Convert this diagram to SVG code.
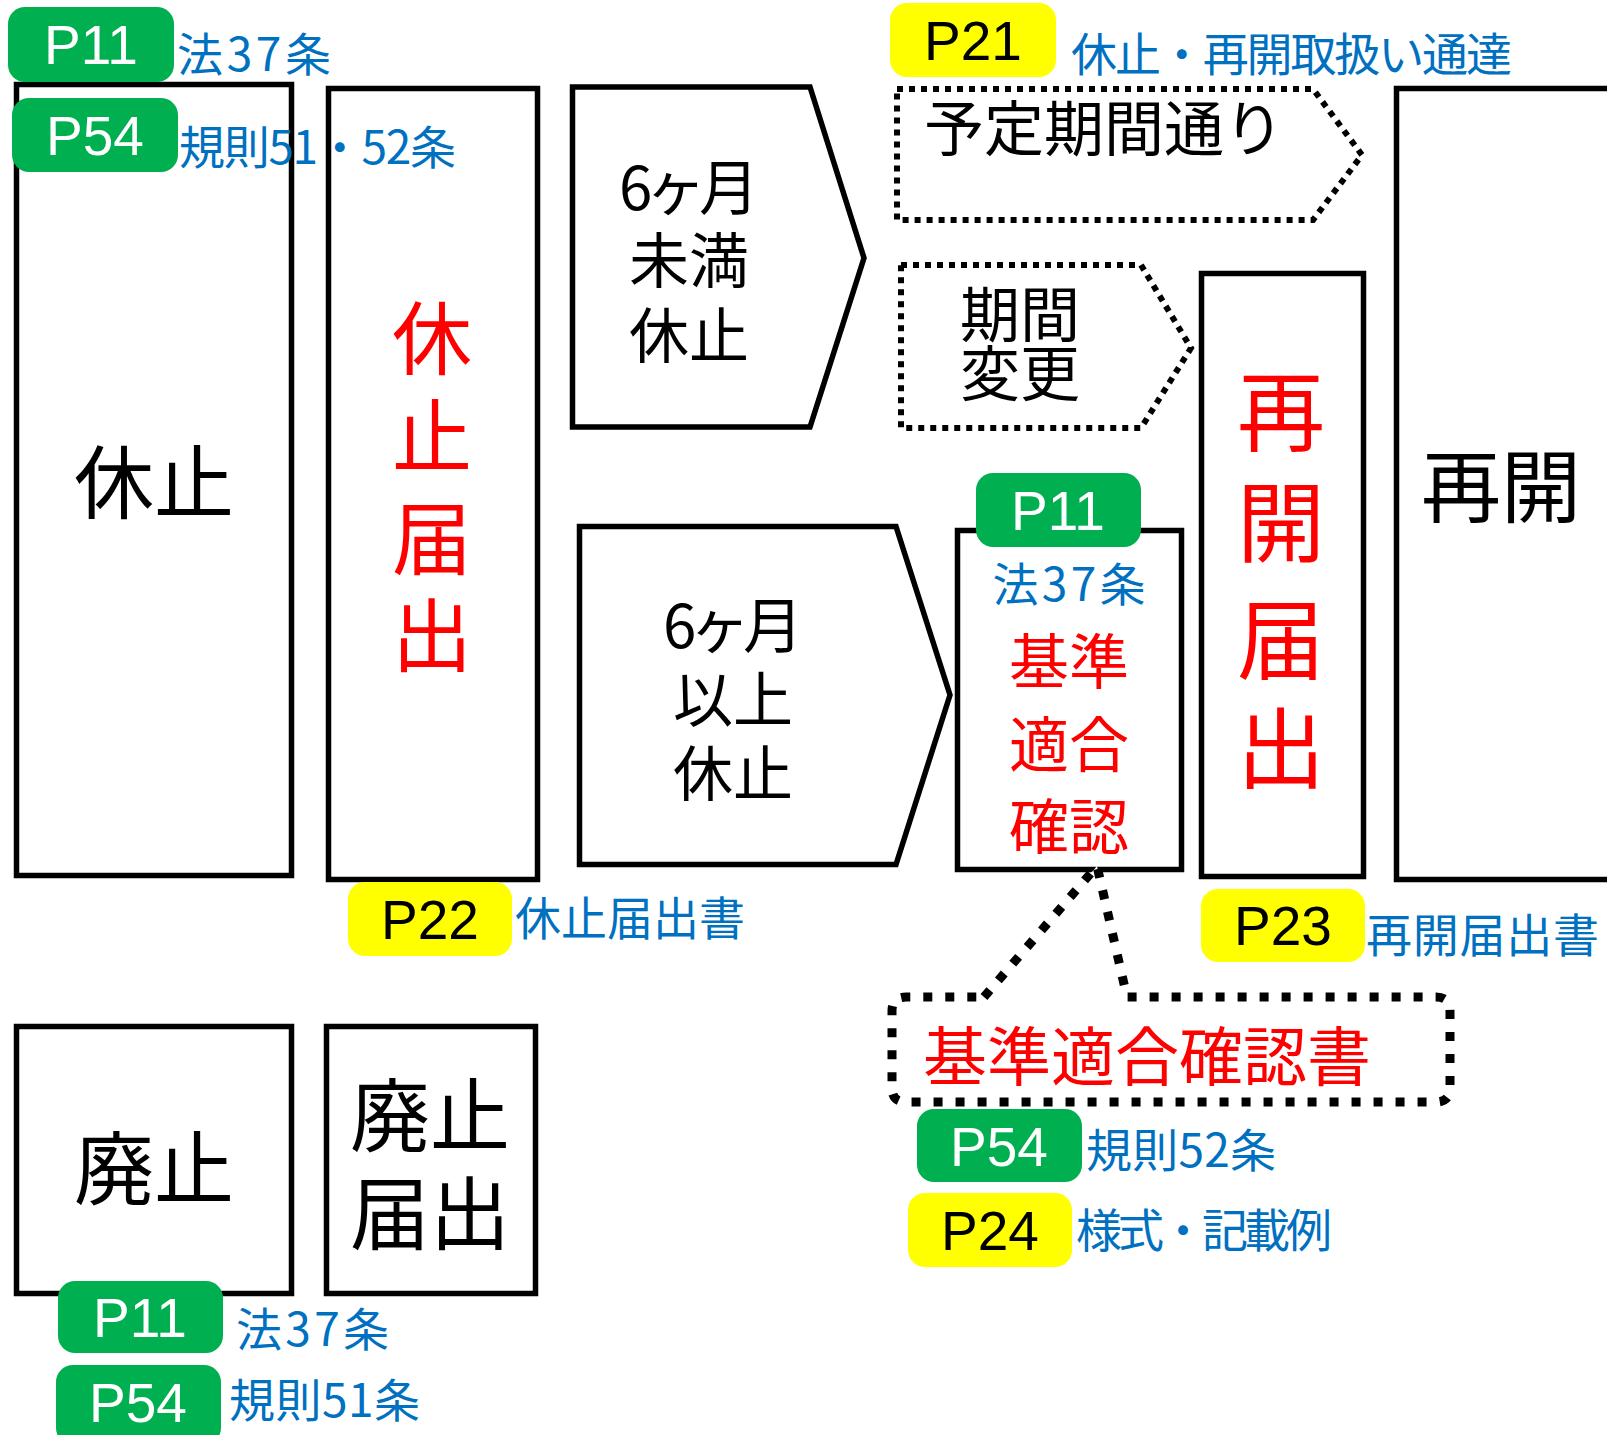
<svg xmlns="http://www.w3.org/2000/svg" width="1607" height="1435" viewBox="0 0 1607 1435">
<style>
.box{fill:#fff;stroke:#000;stroke-width:5.5}
.dot{fill:#fff;stroke:#000;stroke-width:6;stroke-dasharray:6 6}
.call{fill:#fff;stroke:#000;stroke-width:9;stroke-dasharray:9 13}
.g{fill:#00B050}
.y{fill:#FFFF00}
.bt{font-family:"Liberation Sans",Arial,sans-serif;font-size:55px;text-anchor:middle}
.wt{fill:#fff}
.kt{fill:#000}
.jp{font-family:"Noto Sans CJK JP","Noto Sans CJK SC",sans-serif}
.blue{fill:#0070C0;font-size:46px}
.big{font-size:80px;text-anchor:middle}
.mid{font-size:60px;text-anchor:middle}
.red{fill:#FF0000}
</style>
<rect width="1607" height="1435" fill="#fff"/>

<g id="kyushi">
<rect class="box" x="16.5" y="84.5" width="275" height="791"/>
<text class="jp big" x="154" y="512">休止</text>
</g>

<g id="kyushi-todokede">
<rect class="box" x="328.5" y="88.5" width="209" height="791"/>
<text class="jp big red"><tspan x="432" y="368">休</tspan><tspan x="432" y="466">止</tspan><tspan x="432" y="568">届</tspan><tspan x="432" y="665">出</tspan></text>
</g>

<g id="under6">
<polygon class="box" points="572.5,87 810,87 864,258 810,427 572.5,427"/>
<text class="jp mid"><tspan x="689" y="210" textLength="140">6ヶ月</tspan><tspan x="689" y="283">未満</tspan><tspan x="689" y="358">休止</tspan></text>
</g>

<g id="over6">
<polygon class="box" points="579.5,526.5 896,526.5 950,695 896,864.5 579.5,864.5"/>
<text class="jp mid"><tspan x="733" y="648" textLength="140">6ヶ月</tspan><tspan x="733" y="722">以上</tspan><tspan x="733" y="796">休止</tspan></text>
</g>

<g id="yotei">
<polygon class="dot" points="897,89 1313,89 1362,155 1313,220 897,220"/>
<text class="jp mid" x="1104" y="151">予定期間通り</text>
</g>

<g id="henko">
<polygon class="dot" points="901,265 1141,265 1191,348 1141,428 901,428"/>
<text class="jp mid"><tspan x="1020" y="337">期間</tspan><tspan x="1020" y="396">変更</tspan></text>
</g>

<g id="kijun">
<rect class="box" x="957.5" y="530.5" width="224" height="339"/>
<text class="jp blue" x="1069" y="601" text-anchor="middle" textLength="153">法37条</text>
<text class="jp mid red"><tspan x="1069" y="684">基準</tspan><tspan x="1069" y="767">適合</tspan><tspan x="1069" y="849">確認</tspan></text>
</g>

<g id="saikai-todokede">
<rect class="box" x="1201.5" y="273.5" width="162" height="603"/>
<text class="jp red" font-size="88" text-anchor="middle"><tspan x="1281" y="444">再</tspan><tspan x="1281" y="555">開</tspan><tspan x="1281" y="672">届</tspan><tspan x="1281" y="781">出</tspan></text>
</g>

<g id="saikai">
<rect class="box" x="1396.5" y="88.5" width="1207" height="791"/>
<text class="jp big" x="1501" y="516">再開</text>
</g>

<g id="haishi">
<rect class="box" x="16.5" y="1026.5" width="275" height="267"/>
<text class="jp big" x="154" y="1198">廃止</text>
</g>

<g id="haishi-todokede">
<rect class="box" x="326.5" y="1026.5" width="209" height="267"/>
<text class="jp big"><tspan x="430" y="1145">廃止</tspan><tspan x="430" y="1243">届出</tspan></text>
</g>

<g id="callout">
<path class="call" d="M984 997 L1097 866 L1127 997 L1436 997 Q1450 997 1450 1011 L1450 1088 Q1450 1102 1436 1102 L906 1102 Q892 1102 892 1088 L892 1011 Q892 997 906 997 Z"/>
<text class="jp red" x="1147" y="1080" font-size="64" text-anchor="middle">基準適合確認書</text>
</g>

<g id="ref-p11-top">
<rect class="g" x="8" y="7" width="166" height="75" rx="17"/>
<text class="bt wt" x="91" y="64">P11</text>
<text class="jp blue" x="177" y="71" textLength="154">法37条</text>
</g>

<g id="ref-p54-top">
<rect class="g" x="12" y="98" width="166" height="74" rx="17"/>
<text class="bt wt" x="95" y="155">P54</text>
<text class="jp blue" x="179" y="164" textLength="277">規則51・52条</text>
</g>

<g id="ref-p21">
<rect class="y" x="890" y="3" width="166" height="74" rx="17"/>
<text class="bt kt" x="973" y="60">P21</text>
<text class="jp blue" x="1071" y="71" textLength="441">休止・再開取扱い通達</text>
</g>

<g id="ref-p11-kijun">
<rect class="g" x="976" y="473" width="165" height="74" rx="17"/>
<text class="bt wt" x="1058" y="530">P11</text>
</g>

<g id="ref-p22">
<rect class="y" x="348" y="882" width="164" height="74" rx="17"/>
<text class="bt kt" x="430" y="939">P22</text>
<text class="jp blue" x="515" y="935" textLength="230">休止届出書</text>
</g>

<g id="ref-p23">
<rect class="y" x="1201" y="889" width="164" height="73" rx="17"/>
<text class="bt kt" x="1283" y="945">P23</text>
<text class="jp blue" x="1366" y="952" textLength="233">再開届出書</text>
</g>

<g id="ref-p54-kijun">
<rect class="g" x="917" y="1109" width="165" height="73" rx="17"/>
<text class="bt wt" x="999" y="1166">P54</text>
<text class="jp blue" x="1086" y="1167" textLength="190">規則52条</text>
</g>

<g id="ref-p24">
<rect class="y" x="908" y="1193" width="164" height="74" rx="17"/>
<text class="bt kt" x="990" y="1250">P24</text>
<text class="jp blue" x="1076" y="1247" textLength="256">様式・記載例</text>
</g>

<g id="ref-p11-haishi">
<rect class="g" x="58" y="1281" width="165" height="72" rx="17"/>
<text class="bt wt" x="140" y="1337">P11</text>
<text class="jp blue" x="236" y="1346" textLength="153">法37条</text>
</g>

<g id="ref-p54-haishi">
<rect class="g" x="56" y="1365" width="165" height="80" rx="17"/>
<text class="bt wt" x="138" y="1422">P54</text>
<text class="jp blue" x="229" y="1417" textLength="191">規則51条</text>
</g>
</svg>
